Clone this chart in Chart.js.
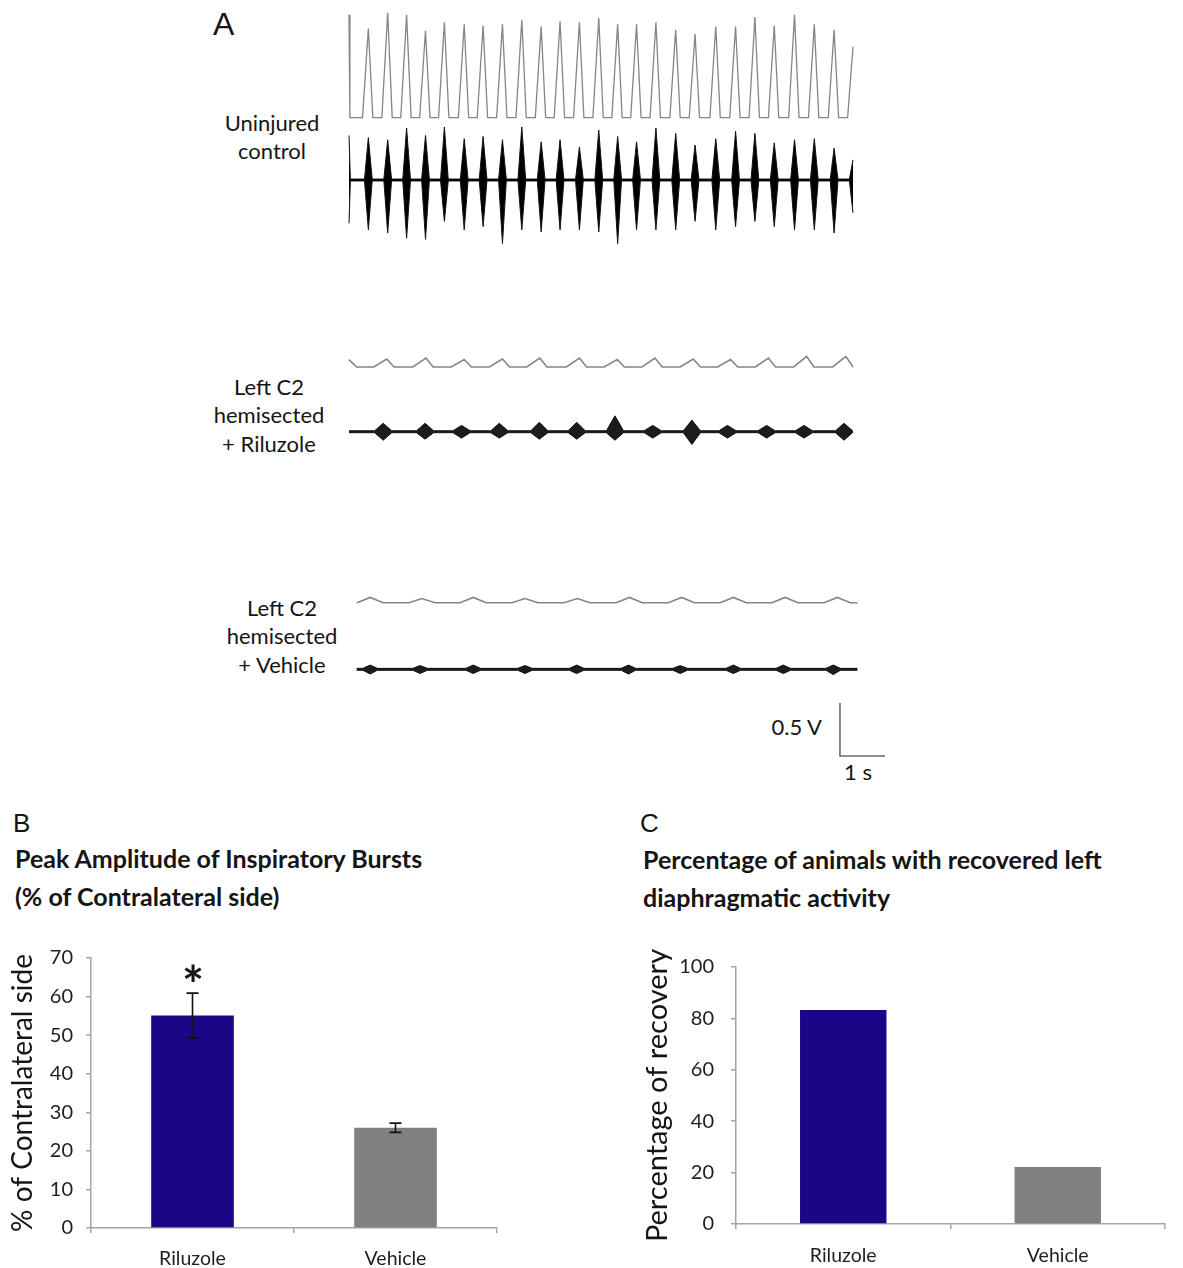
<!DOCTYPE html>
<html>
<head>
<meta charset="utf-8">
<script src="https://cdn.jsdelivr.net/npm/chart.js@4.4.1/dist/chart.umd.min.js"></script>
<style>
  html, body { margin: 0; padding: 0; background: #fff; }
  body { width: 1183px; height: 1268px; position: relative; overflow: hidden; font-family: Lato, 'Open Sans', sans-serif; color: #151515; }
  canvas, .t { position: absolute; }
  .t { white-space: nowrap; font-size: 22px; line-height: 28.3px; }
  .c { text-align: center; }
  .r { text-align: right; }
  .panel { font-family: 'Liberation Sans', Arial, sans-serif; line-height: 1; }
  .title { font-weight: bold; font-size: 25px; line-height: 37.5px; }
</style>
</head>
<body>
<div class="t panel" style="left:213px; top:8px; font-size:32px;">A</div>
<div class="t panel" style="left:13px; top:810px; font-size:26px;">B</div>
<div class="t panel" style="left:640px; top:810px; font-size:26px;">C</div>

<div class="t c" style="left:202px; top:109px; width:140px;">Uninjured<br>control</div>
<div class="t c" style="left:199px; top:373px; width:140px;">Left C2<br>hemisected<br>+ Riluzole</div>
<div class="t c" style="left:212px; top:594px; width:140px;">Left C2<br>hemisected<br>+ Vehicle</div>
<div class="t r" style="left:720px; top:713px; width:102px;">0.5 V</div>
<div class="t c" style="left:828px; top:758px; width:60px;">1 s</div>

<div class="t title" style="left:15px; top:840px;">Peak Amplitude of Inspiratory Bursts<br>(% of Contralateral side)</div>
<div class="t title" style="left:643px; top:841px;">Percentage of animals with recovered left<br>diaphragmatic activity</div>
<div class="t c" style="left:163px; top:958px; width:60px; font-size:52px; line-height:52px; font-weight:bold;">*</div>

<canvas id="traces" width="560" height="800" style="left:340px; top:0px;"></canvas>
<canvas id="chartB" width="510" height="338" style="left:0px; top:930px;"></canvas>
<canvas id="chartC" width="543" height="338" style="left:640px; top:930px;"></canvas>

<script>
// ---- Panel A: recordings (time in s, amplitude in V above each trace's baseline)
// uninjured control: one inspiratory burst per breath
var ctrlBurstT = [0.43, 0.86, 1.28, 1.70, 2.12, 2.56, 2.98, 3.41, 3.84, 4.27, 4.69, 5.12, 5.55,
  5.97, 6.39, 6.82, 7.26, 7.69, 8.15, 8.59, 9.02, 9.45, 9.90, 10.34, 10.78];
var ctrlIntAmp = [0.84, 0.99, 0.97, 0.82, 0.90, 0.88, 0.87, 0.88, 0.92, 0.86, 0.91, 0.90, 0.94,
  0.88, 0.88, 0.90, 0.83, 0.79, 0.86, 0.86, 0.95, 0.87, 0.97, 0.88, 0.83];
var ctrlRawUp = [0.40, 0.38, 0.49, 0.42, 0.50, 0.39, 0.41, 0.38, 0.50, 0.36, 0.38, 0.31, 0.47,
  0.41, 0.36, 0.49, 0.44, 0.33, 0.39, 0.46, 0.44, 0.35, 0.38, 0.39, 0.30];
var ctrlRawDown = [0.47, 0.50, 0.55, 0.56, 0.39, 0.47, 0.44, 0.60, 0.47, 0.49, 0.47, 0.47, 0.49,
  0.60, 0.47, 0.47, 0.47, 0.39, 0.47, 0.44, 0.39, 0.44, 0.47, 0.47, 0.50];

// left C2 hemisected + riluzole
var riluIntT = [0.84, 1.71, 2.56, 3.41, 4.24, 5.12, 5.96, 6.80, 7.65, 8.48, 9.32, 10.17, 11.04];
var riluIntAmp = [0.075, 0.085, 0.07, 0.075, 0.085, 0.085, 0.07, 0.085, 0.075, 0.07, 0.085, 0.10, 0.10];
var riluRawT = [0.76, 1.69, 2.50, 3.34, 4.23, 5.06, 5.91, 6.75, 7.62, 8.41, 9.28, 10.11, 11.00];
var riluRawUp = [0.08, 0.08, 0.06, 0.08, 0.09, 0.09, 0.15, 0.06, 0.11, 0.06, 0.06, 0.06, 0.08];
var riluRawDown = [0.08, 0.07, 0.06, 0.06, 0.07, 0.07, 0.08, 0.06, 0.12, 0.06, 0.06, 0.06, 0.08];

// left C2 hemisected + vehicle
var vehIntT = [0.47, 1.62, 2.76, 3.91, 5.07, 6.23, 7.39, 8.54, 9.69, 10.85];
var vehIntAmp = [0.05, 0.04, 0.05, 0.04, 0.04, 0.05, 0.05, 0.05, 0.05, 0.05];
var vehRawT = [0.47, 1.58, 2.76, 3.91, 5.06, 6.21, 7.36, 8.54, 9.65, 10.76];
var vehRawUp = [0.04, 0.035, 0.04, 0.035, 0.04, 0.04, 0.035, 0.04, 0.04, 0.04];
var vehRawDown = [0.045, 0.04, 0.04, 0.04, 0.04, 0.045, 0.04, 0.04, 0.04, 0.05];

// scale bar
var scaleBarV = 0.5;
var scaleBarS = 1;

// ---- Panels B and C
var groups = ['Riluzole', 'Vehicle'];
var peakAmpMean = [55.1, 26.0];
var peakAmpErr = [5.8, 1.2];
var recoveryPct = [83.3, 22.2];

// layout of panel A (trace baselines in V on the shared y axis)
var BASE = { ctrlInt: 6.437, ctrlRaw: 5.849, riluInt: 4.085, riluRaw: 3.474, vehInt: 1.861, vehRaw: 1.233 };
var BAND = 0.009;
var GREY_TRACE = '#858585';
var AXIS = '#a4a4a4';
var BLUE = '#1b0687';
var GREY_BAR = '#808080';

Chart.defaults.font.family = "Lato, 'Open Sans', sans-serif";
Chart.defaults.color = '#1e1e1e';

function integratedTrace(base, peaks, amps, rise, fall, head, tail) {
  var pts = head.map(function (p) { return {x: p[0], y: base + p[1]}; });
  peaks.forEach(function (t, i) {
    pts.push({x: t - rise, y: base}, {x: t, y: base + amps[i]}, {x: t + fall, y: base});
  });
  tail.forEach(function (p) { pts.push({x: p[0], y: base + p[1]}); });
  return pts;
}

function rawSide(base, centers, amps, sign, half, span, headAmp, tailAmp) {
  var pts = [];
  if (headAmp) pts.push({x: span[0], y: base + sign * headAmp}, {x: span[0] + 0.03, y: base + sign * BAND});
  else pts.push({x: span[0], y: base + sign * BAND});
  centers.forEach(function (t, i) {
    pts.push({x: t - half, y: base + sign * BAND}, {x: t, y: base + sign * amps[i]}, {x: t + half, y: base + sign * BAND});
  });
  if (tailAmp) pts.push({x: span[1] - 0.08, y: base + sign * BAND}, {x: span[1], y: base + sign * tailAmp});
  else pts.push({x: span[1], y: base + sign * BAND});
  return pts;
}

function greyLine(data, w) {
  return { data: data, borderColor: GREY_TRACE, borderWidth: w || 1.3, fill: false };
}
function rawPair(up, down, fillColor) {
  return [
    { data: up, borderColor: '#111', borderWidth: 1, fill: false },
    { data: down, borderColor: '#111', borderWidth: 1, fill: '-1', backgroundColor: fillColor || '#000' }
  ];
}

var tracesData = [greyLine(integratedTrace(BASE.ctrlInt, ctrlBurstT, ctrlIntAmp, 0.13, 0.10, [[0, 0.97], [0.02, 0]], [[11.08, 0], [11.2, 0.67]]))]
  .concat(rawPair(
    rawSide(BASE.ctrlRaw, ctrlBurstT, ctrlRawUp, 1, 0.085, [0, 11.2], 0.42, 0.19),
    rawSide(BASE.ctrlRaw, ctrlBurstT, ctrlRawDown, -1, 0.085, [0, 11.2], 0.41, 0.31)))
  .concat([greyLine(integratedTrace(BASE.riluInt, riluIntT, riluIntAmp, 0.29, 0.16, [[0, 0.07], [0.17, 0]], []), 1.6)])
  .concat(rawPair(
    rawSide(BASE.riluRaw, riluRawT, riluRawUp, 1, 0.19, [0, 11.2]),
    rawSide(BASE.riluRaw, riluRawT, riluRawDown, -1, 0.19, [0, 11.2]), '#1c1c1c'))
  .concat([greyLine(integratedTrace(BASE.vehInt, vehIntT, vehIntAmp, 0.29, 0.29, [[0.17, 0]], [[11.3, 0]]), 1.6)])
  .concat(rawPair(
    rawSide(BASE.vehRaw, vehRawT, vehRawUp, 1, 0.16, [0.17, 11.3]),
    rawSide(BASE.vehRaw, vehRawT, vehRawDown, -1, 0.16, [0.17, 11.3]), '#1c1c1c'))
  .concat([{
    data: [{x: 10.91, y: 0.415 + scaleBarV}, {x: 10.91, y: 0.415}, {x: 10.91 + scaleBarS, y: 0.415}],
    borderColor: '#6a6a6a', borderWidth: 1.6, fill: false
  }]);

new Chart(document.getElementById('traces'), {
  type: 'line',
  data: { datasets: tracesData },
  options: {
    responsive: false,
    animation: false,
    events: [],
    layout: { padding: 0 },
    elements: { point: { radius: 0 }, line: { tension: 0 } },
    plugins: { legend: { display: false }, tooltip: { enabled: false } },
    scales: {
      x: { type: 'linear', min: -0.2, max: 12.244, display: false },
      y: { type: 'linear', min: 0, max: 7.547, display: false }
    }
  }
});

var errorBars = {
  id: 'errorBars',
  afterDatasetsDraw: function (chart, args, opts) {
    if (!opts.err) return;
    var meta = chart.getDatasetMeta(0), y = chart.scales.y, ctx = chart.ctx;
    var vals = chart.data.datasets[0].data;
    ctx.save();
    ctx.strokeStyle = '#111';
    ctx.lineWidth = 1.6;
    meta.data.forEach(function (bar, i) {
      var hi = y.getPixelForValue(vals[i] + opts.err[i]);
      var lo = y.getPixelForValue(vals[i] - opts.err[i]);
      ctx.beginPath();
      ctx.moveTo(bar.x, hi); ctx.lineTo(bar.x, lo);
      ctx.moveTo(bar.x - opts.cap, hi); ctx.lineTo(bar.x + opts.cap, hi);
      ctx.moveTo(bar.x - opts.cap, lo); ctx.lineTo(bar.x + opts.cap, lo);
      ctx.stroke();
    });
    ctx.restore();
  }
};

function barChart(id, values, o) {
  return new Chart(document.getElementById(id), {
    type: 'bar',
    data: {
      labels: groups,
      datasets: [{ data: values, backgroundColor: [BLUE, GREY_BAR], barPercentage: o.barPct, categoryPercentage: 1 }]
    },
    plugins: [errorBars],
    options: {
      responsive: false,
      animation: false,
      events: [],
      layout: { padding: { top: o.padTop, right: o.padRight, left: 0, bottom: 0 } },
      plugins: { legend: { display: false }, tooltip: { enabled: false }, errorBars: { err: o.err, cap: 6 } },
      scales: {
        x: {
          grid: { offset: true, drawOnChartArea: false, tickLength: 5, color: AXIS, lineWidth: 1.5 },
          border: { color: AXIS, width: 1.5 },
          ticks: { font: { size: 19.5 }, padding: o.xPad },
          afterFit: function (s) { s.height = o.xHeight; }
        },
        y: {
          min: 0, max: o.max,
          grid: { drawOnChartArea: false, tickLength: 5, color: AXIS, lineWidth: 1.5 },
          border: { color: AXIS, width: 1.5 },
          ticks: { stepSize: o.step, font: { size: 20 }, padding: o.yPad },
          title: { display: true, text: o.title, font: { size: o.titleSize }, color: '#151515', padding: { top: o.titlePad, bottom: 0 } },
          afterFit: function (s) { s.width = o.yWidth; }
        }
      }
    }
  });
}

barChart('chartB', peakAmpMean, {
  err: peakAmpErr, max: 70, step: 10, title: '% of Contralateral side', titleSize: 28, barPct: 0.407,
  padTop: 28, padRight: 13, xHeight: 40, xPad: 14, yWidth: 91, yPad: 13, titlePad: 6
});
barChart('chartC', recoveryPct, {
  err: null, max: 100, step: 20, title: 'Percentage of recovery', titleSize: 29, barPct: 0.403,
  padTop: 37, padRight: 18, xHeight: 44, xPad: 15, yWidth: 96, yPad: 17, titlePad: 0
});
</script>
</body>
</html>
